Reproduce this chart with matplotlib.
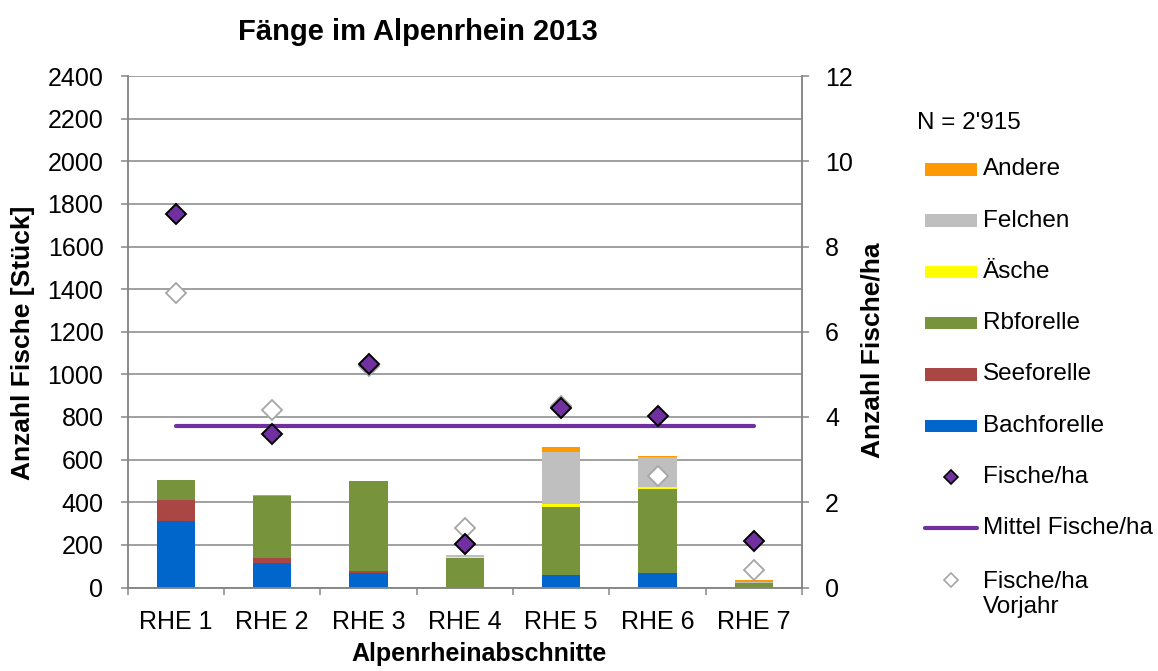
import matplotlib
matplotlib.use("Agg")
import matplotlib.pyplot as plt
from matplotlib.patches import Rectangle
from matplotlib.lines import Line2D
import numpy as np

plt.rcParams['font.family'] = ['Liberation Sans', 'DejaVu Sans']

# ---------------- data ----------------
categories = ["RHE 1", "RHE 2", "RHE 3", "RHE 4", "RHE 5", "RHE 6", "RHE 7"]
bachforelle = [310, 117, 67, 2, 57, 70, 0]
seeforelle = [102, 23, 11, 0, 0, 0, 0]
rbforelle = [91, 287, 420, 136, 319, 392, 22]
aesche = [0, 0, 0, 3, 18, 8, 0]
felchen = [0, 0, 0, 12, 242, 141, 3]
andere = [3, 8, 2, 0, 25, 8, 10]
fische_ha = [8.77, 3.61, 5.25, 1.02, 4.22, 4.02, 1.10]
fische_ha_vorjahr = [6.91, 4.16, 5.20, 1.39, 4.25, 2.61, 0.41]
mittel_fische_ha = 3.78
left_ticks = list(range(0, 2401, 200))
right_ticks = list(range(0, 13, 2))
n_text = "N = 2'915"

series = [
    ("Bachforelle", bachforelle, "#0066CC"),
    ("Seeforelle", seeforelle, "#AA4643"),
    ("Rbforelle", rbforelle, "#77933C"),
    ("Äsche", aesche, "#FFFF00"),
    ("Felchen", felchen, "#BFBFBF"),
    ("Andere", andere, "#FF9900"),
]
purple = "#7030A0"
grid_c = "#868686"

W, H = 1158, 671
fig = plt.figure(figsize=(W / 100, H / 100), dpi=100)

def fx(x):
    return x / W

def fy(y):
    return 1 - y / H

L, R, T, B = 127.7, 802.0, 76.0, 587.5
ax = fig.add_axes([fx(L), fy(B), (R - L) / W, (B - T) / H])
ax2 = ax.twinx()

x = np.arange(1, len(categories) + 1)
bottom = np.zeros(len(categories))
for name, vals, col in series:
    ax.bar(x, vals, width=0.4, bottom=bottom, color=col, zorder=2, linewidth=0)
    bottom += np.array(vals)

ax.set_xlim(0.5, len(categories) + 0.5)
ax.set_ylim(0, 2400)
ax.set_yticks(left_ticks)
ax.set_xticks(x)
ax.set_xticklabels(categories)
ax.set_xticks(np.arange(0.5, len(categories) + 1, 1), minor=True)
ax.tick_params(axis='x', which='major', length=0, pad=16, labelsize=18)
ax.tick_params(axis='x', which='minor', length=5, width=1.1, color=grid_c, direction='out')
ax.tick_params(axis='y', length=5, width=1.1, color=grid_c, pad=12.5, labelsize=18)
ax.grid(axis='y', color=grid_c, linewidth=1.1, zorder=0)
ax.set_axisbelow(True)
for s in ['top']:
    ax.spines[s].set_visible(False)
    ax2.spines[s].set_visible(False)
for s in ['left', 'bottom', 'right']:
    ax.spines[s].set_color(grid_c)
    ax.spines[s].set_linewidth(1.1)
    ax2.spines[s].set_color(grid_c)
    ax2.spines[s].set_linewidth(1.1)

ax2.set_ylim(0, 12)
ax2.set_yticks(right_ticks)
ax2.tick_params(axis='y', length=5, width=1.1, color=grid_c, pad=11.5, labelsize=18)

ax2.plot([x[0], x[-1]], [mittel_fische_ha] * 2, color=purple, lw=3, solid_capstyle='round', zorder=3)
ax2.plot(x, fische_ha_vorjahr, linestyle='none', marker='D', markersize=10,
         markerfacecolor='white', markeredgecolor='#A6A6A6', markeredgewidth=1.3, zorder=4)
ax2.plot(x, fische_ha, linestyle='none', marker='D', markersize=10,
         markerfacecolor=purple, markeredgecolor='black', markeredgewidth=1.4, zorder=5)

ax.set_ylabel("Anzahl Fische [Stück]", fontsize=19, fontweight='bold')
ax.yaxis.label.set_va('center')
ax.yaxis.set_label_coords((23 - L) / (R - L), (B - 343) / (B - T))
ax2.set_ylabel("Anzahl Fische/ha", fontsize=19, fontweight='bold', rotation=90)
ax2.yaxis.label.set_va('center')
ax2.yaxis.set_label_coords((873 - L) / (R - L), (B - 350) / (B - T))
ax.set_xlabel("Alpenrheinabschnitte", fontsize=18, fontweight='bold')
ax.xaxis.label.set_va('center')
ax.xaxis.set_label_coords((479 - L) / (R - L), (B - 654) / (B - T))

fig.text(fx(417.5), fy(32), "Fänge im Alpenrhein 2013", fontsize=21, fontweight='bold',
         ha='center', va='center')

# ---------------- legend ----------------
fig.text(fx(916.7), fy(123), n_text, fontsize=17.5, ha='left', va='center')
leg_items = list(reversed(series))
ys = [169.3 + 51.3 * i for i in range(9)]
for (name, vals, col), yy in zip(leg_items, ys):
    fig.add_artist(Rectangle((fx(925), fy(yy + 6.3)), 52 / W, 12.6 / H,
                             transform=fig.transFigure, facecolor=col, edgecolor='none'))
    fig.text(fx(982.7), fy(yy), name, fontsize=17.5, ha='left', va='center')
yy = ys[6]
fig.add_artist(Line2D([fx(951)], [fy(yy)], transform=fig.transFigure, linestyle='none',
                      marker='D', markersize=7, markerfacecolor=purple,
                      markeredgecolor='black', markeredgewidth=1.2))
fig.text(fx(982.7), fy(yy), "Fische/ha", fontsize=17.5, ha='left', va='center')
yy = ys[7]
fig.add_artist(Line2D([fx(925), fx(977)], [fy(yy), fy(yy)], transform=fig.transFigure,
                      color=purple, lw=3, solid_capstyle='round'))
fig.text(fx(982.7), fy(yy), "Mittel Fische/ha", fontsize=17.5, ha='left', va='center')
yy = ys[8]
fig.add_artist(Line2D([fx(951)], [fy(yy)], transform=fig.transFigure, linestyle='none',
                      marker='D', markersize=7, markerfacecolor='white',
                      markeredgecolor='#A6A6A6', markeredgewidth=1.2))
fig.text(fx(982.7), fy(yy + 14.5), "Fische/ha\nVorjahr", fontsize=17.5, ha='left', va='center',
         linespacing=1.2)

fig.savefig("out.png", dpi=100)
